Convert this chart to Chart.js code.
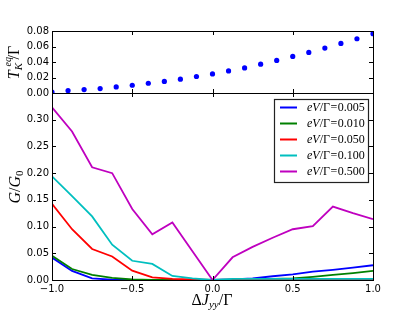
<!DOCTYPE html>
<html><head><meta charset="utf-8">
<script src="https://cdn.jsdelivr.net/npm/chart.js@4.4.0/dist/chart.umd.min.js"></script>
<style>
html,body{margin:0;padding:0;background:#fff;}
#wrap{position:relative;width:415px;height:312px;}
canvas{position:absolute;left:0;top:0;}
</style></head>
<body>
<div id="wrap">
<canvas id="top" width="415" height="312"></canvas>
<canvas id="bot" width="415" height="312"></canvas>
</div>
<script>
// ---- data ----
const xTop = [-1.0,-0.9,-0.8,-0.7,-0.6,-0.5,-0.4,-0.3,-0.2,-0.1,0.0,0.1,0.2,0.3,0.4,0.5,0.6,0.7,0.8,0.9,1.0];
const tkEq = [0.0013,0.003,0.0044,0.0057,0.0078,0.010,0.0126,0.015,0.0178,0.0213,0.0246,0.0285,0.0324,0.0372,0.042,0.0472,0.0524,0.058,0.064,0.070,0.0765];
const xBottom = [-1.0,-0.875,-0.75,-0.625,-0.5,-0.375,-0.25,-0.125,0.0,0.125,0.25,0.375,0.5,0.625,0.75,0.875,1.0];
const g005 = [0.042,0.017,0.003,0.0005,0,0,0,0,0,0.001,0.003,0.007,0.0107,0.0156,0.019,0.023,0.0276];
const g010 = [0.0455,0.0206,0.0094,0.004,0.001,0.0003,0,0,0,0,0.001,0.002,0.003,0.006,0.0094,0.013,0.017];
const g050 = [0.1425,0.095,0.058,0.044,0.0175,0.005,0.002,0.001,0,0.0005,0.0005,0.0005,0.001,0.001,0.001,0.001,0.001];
const g100 = [0.194,0.157,0.119,0.066,0.036,0.030,0.0075,0.003,0,0.002,0.002,0.002,0.002,0.002,0.002,0.002,0.002];
const g500 = [0.323,0.278,0.211,0.200,0.133,0.0857,0.1075,0.054,0,0.0425,0.062,0.079,0.095,0.101,0.1375,0.125,0.114];
const seriesValues = ['0.005','0.010','0.050','0.100','0.500'];
const seriesColors = ['#0000ff','#008000','#ff0000','#00bfbf','#bf00bf'];
const xTicks = [-1.0,-0.5,0.0,0.5,1.0];
const xTickLabels = ['\u22121.0','\u22120.5','0.0','0.5','1.0'];
const yTopTicks = [0.00,0.02,0.04,0.06,0.08];
const yTopLabels = ['0.00','0.02','0.04','0.06','0.08'];
const yBotTicks = [0.00,0.05,0.10,0.15,0.20,0.25,0.30,0.35];
const yBotLabels = ['0.00','0.05','0.10','0.15','0.20','0.25','0.30',''];

const TICKFONT = {family:'DejaVu Sans', size:10};
const SERIF = 'Liberation Serif';

function framePlugin(xt, yt){
  return {id:'frame', afterDatasetsDraw(chart){
    const c = chart.ctx, a = chart.chartArea;
    const xs = chart.scales.x, ys = chart.scales.y;
    c.save();
    c.strokeStyle = '#000'; c.lineWidth = 1;
    c.beginPath();
    for (const v of xt){ const p = Math.round(xs.getPixelForValue(v))+0.5;
      c.moveTo(p,a.bottom); c.lineTo(p,a.bottom-4); c.moveTo(p,a.top); c.lineTo(p,a.top+4); }
    for (const v of yt){ const p = Math.round(ys.getPixelForValue(v))+0.5;
      c.moveTo(a.left,p); c.lineTo(a.left+4,p); c.moveTo(a.right,p); c.lineTo(a.right-4,p); }
    c.stroke();
    c.strokeRect(Math.round(a.left)+0.5, Math.round(a.top)+0.5, Math.round(a.right-a.left), Math.round(a.bottom-a.top));
    c.restore();
  }};
}

function drawSegs(c, segs, align){
  let w = 0;
  for (const s of segs){ c.font = (s.it?'italic ':'') + s.sz + 'px "' + SERIF + '"'; s.w = c.measureText(s.t).width + (s.gap||0); w += s.w; }
  let x = align==='left' ? 0 : -w/2;
  c.textBaseline = 'middle'; c.textAlign = 'left'; c.fillStyle = '#000';
  for (const s of segs){ c.font = (s.it?'italic ':'') + s.sz + 'px "' + SERIF + '"'; c.fillText(s.t, x + (s.gap||0)/2, s.dy||0); x += s.w; }
}

const topTitle = {id:'topTitle', afterDraw(chart){
  const c = chart.ctx; c.save(); c.translate(15, 62); c.rotate(-Math.PI/2);
  drawSegs(c, [{t:'T',it:true,sz:16},{t:'K',it:true,sz:11,dy:4},{t:'eq',it:true,sz:10,dy:-7,gap:-7},{t:'/\u0393',it:false,sz:16,gap:2}]);
  c.restore();
}};

const botDeco = {id:'botDeco', afterDraw(chart){
  const c = chart.ctx;
  c.save(); c.translate(16, 187); c.rotate(-Math.PI/2);
  drawSegs(c, [{t:'G',it:true,sz:16},{t:'/',it:false,sz:16},{t:'G',it:true,sz:16},{t:'0',it:false,sz:11,dy:4}]);
  c.restore();
  c.save(); c.translate(212, 301);
  drawSegs(c, [{t:'\u0394',it:false,sz:16},{t:'J',it:true,sz:16},{t:'yy',it:true,sz:11,dy:4},{t:'/\u0393',it:false,sz:16}]);
  c.restore();
  // legend
  c.save();
  c.fillStyle = '#fff'; c.fillRect(274,99,94,83);
  c.strokeStyle = '#222'; c.lineWidth = 1.2; c.strokeRect(274.5,99.5,94,83);
  for (let i=0;i<seriesValues.length;i++){
    const y = 107.5 + i*16;
    c.strokeStyle = seriesColors[i]; c.lineWidth = 2;
    c.beginPath(); c.moveTo(280,y); c.lineTo(297,y); c.stroke();
    c.save(); c.translate(307, y);
    drawSegs(c, [{t:'eV',it:true,sz:12},{t:'/\u0393',it:false,sz:12},{t:'=',it:false,sz:12,gap:1},{t:seriesValues[i],it:false,sz:12}], 'left');
    c.restore();
  }
  c.restore();
}};

Chart.defaults.devicePixelRatio = 1;
Chart.defaults.animation = false;

new Chart(document.getElementById('top'), {
  type:'scatter',
  data:{datasets:[{data:xTop.map((x,i)=>({x, y:tkEq[i]})), backgroundColor:'#0000ff', borderWidth:0, pointRadius:2.6, pointHoverRadius:2.6}]},
  options:{responsive:false, animation:false,
    layout:{padding:{top:31,right:42,left:0,bottom:0}},
    plugins:{legend:{display:false}, tooltip:{enabled:false}},
    scales:{
      x:{type:'linear', min:-1, max:1, grid:{display:false, drawTicks:false}, border:{display:false}, ticks:{display:false},
         afterBuildTicks:s=>{s.ticks = xTicks.map(v=>({value:v}));}, afterFit:s=>{s.height = 312-93;}},
      y:{min:0, max:0.08, grid:{display:false, drawTicks:false}, border:{display:false},
         afterBuildTicks:s=>{s.ticks = yTopTicks.map(v=>({value:v}));},
         ticks:{font:TICKFONT, color:'#000', padding:3, callback:(v,i)=>yTopLabels[i]}, afterFit:s=>{s.width = 52;}}
    }},
  plugins:[framePlugin(xTicks, yTopTicks), topTitle]
});

const gSeries = [g005,g010,g050,g100,g500];
new Chart(document.getElementById('bot'), {
  type:'line',
  data:{datasets:gSeries.map((arr,k)=>({data:xBottom.map((x,i)=>({x, y:arr[i]})), borderColor:seriesColors[k], backgroundColor:seriesColors[k],
    borderWidth:1.8, pointRadius:0, tension:0, fill:false, order:5-k}))},
  options:{responsive:false, animation:false,
    layout:{padding:{top:93,right:42,left:0,bottom:0}},
    plugins:{legend:{display:false}, tooltip:{enabled:false}},
    scales:{
      x:{type:'linear', min:-1, max:1, grid:{display:false, drawTicks:false}, border:{display:false},
         afterBuildTicks:s=>{s.ticks = xTicks.map(v=>({value:v}));},
         ticks:{font:TICKFONT, color:'#000', padding:3, maxRotation:0, autoSkip:false, callback:(v,i)=>xTickLabels[i]},
         afterFit:s=>{s.height = 32;}},
      y:{min:0, max:0.35, grid:{display:false, drawTicks:false}, border:{display:false},
         afterBuildTicks:s=>{s.ticks = yBotTicks.map(v=>({value:v}));},
         ticks:{font:TICKFONT, color:'#000', padding:3, autoSkip:false, callback:(v,i)=>yBotLabels[i]}, afterFit:s=>{s.width = 52;}}
    }},
  plugins:[framePlugin(xTicks, yBotTicks.slice(0,7)), botDeco]
});
</script>
</body></html>
